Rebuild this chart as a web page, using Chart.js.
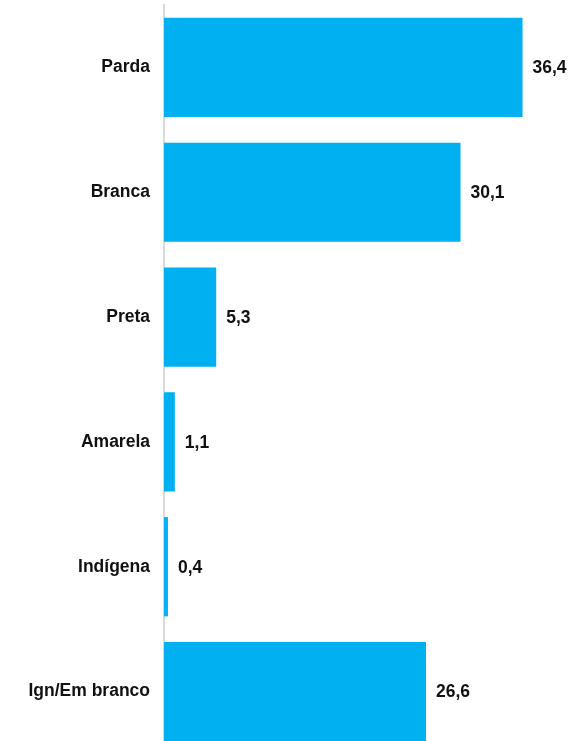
<!DOCTYPE html>
<html>
<head>
<meta charset="utf-8">
<script src="https://cdn.jsdelivr.net/npm/chart.js@4"></script>
<style>
  html, body { margin: 0; padding: 0; background: #fff; overflow: hidden; }
</style>
</head>
<body>
<canvas id="raceChart" width="574" height="754"></canvas>
<script>
// categorias e valores (%)
const categories = ['Parda', 'Branca', 'Preta', 'Amarela', 'Indígena', 'Ign/Em branco'];
const percentages = [36.4, 30.1, 5.3, 1.1, 0.4, 26.6];

const barColor = '#00B0F0';
const textColor = '#111111';
const fontFamily = '"Liberation Sans", Arial, sans-serif';

// rótulos de valor no fim de cada barra
const valueLabels = {
    id: 'valueLabels',
    afterDatasetsDraw(chart) {
        const ctx = chart.ctx;
        const meta = chart.getDatasetMeta(0);
        ctx.save();
        ctx.font = 'bold 17.5px ' + fontFamily;
        ctx.fillStyle = textColor;
        ctx.textAlign = 'left';
        ctx.textBaseline = 'middle';
        meta.data.forEach((bar, i) => {
            const txt = percentages[i].toFixed(1).replace('.', ',');
            ctx.fillText(txt, bar.x + 10, bar.y + 1);
        });
        ctx.restore();
    }
};

new Chart(document.getElementById('raceChart'), {
    type: 'bar',
    data: {
        labels: categories,
        datasets: [{
            data: percentages,
            backgroundColor: barColor,
            borderWidth: 0,
            categoryPercentage: 1,
            barPercentage: 0.795
        }]
    },
    options: {
        indexAxis: 'y',
        responsive: false,
        animation: false,
        layout: { padding: { top: 5, right: 16, bottom: 0, left: 0 } },
        plugins: {
            legend: { display: false },
            tooltip: { enabled: false }
        },
        scales: {
            x: {
                display: false,
                min: 0,
                max: 40
            },
            y: {
                afterFit(scale) {
                    scale.width = 164;
                    scale.paddingTop = 0;
                    scale.paddingBottom = 0;
                },
                grid: { display: false, drawTicks: false },
                border: { display: true, color: '#d9d9d9', width: 2 },
                ticks: {
                    padding: 14,
                    color: textColor,
                    font: { family: fontFamily, size: 17.5, weight: 'bold' }
                }
            }
        }
    },
    plugins: [valueLabels]
});
</script>
</body>
</html>
